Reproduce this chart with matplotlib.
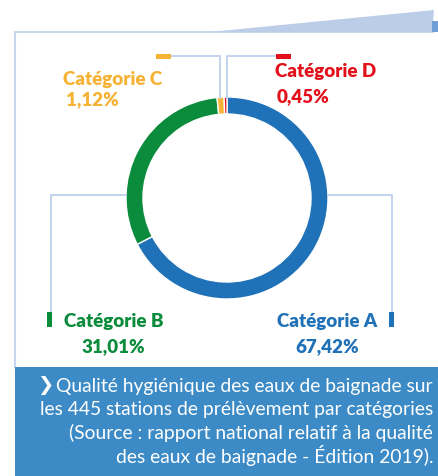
import matplotlib.pyplot as plt
from matplotlib.patches import Rectangle, Polygon

# data
categories = ['Catégorie A', 'Catégorie B', 'Catégorie C', 'Catégorie D']
shares = [67.42, 31.01, 1.12, 0.45]
share_labels = ['67,42%', '31,01%', '1,12%', '0,45%']
colors = ['#1f71b8', '#0a8c3c', '#f6b234', '#e2101b']
caption = ['Qualité hygiénique des eaux de baignade sur',
           'les 445 stations de prélèvement par catégories',
           '(Source : rapport national relatif à la qualité',
           'des eaux de baignade - Édition 2019).']

W, H = 438, 477
def Y(p):
    # pixel row -> data y
    return H - p

fig = plt.figure(figsize=(W / 100, H / 100), dpi=100)
ax = fig.add_axes([0, 0, 1, 1])

frame = '#c8d6ee'
lc = '#c3d3ee'

# frame and top decoration
ax.plot([15, 15], [Y(33), Y(368)], color=frame, lw=1.5, zorder=1)
ax.plot([15, 433], [Y(33), Y(33)], color=frame, lw=1.5, zorder=1)
ax.add_patch(Polygon([(210, Y(33)), (434, Y(11)), (432, Y(33))], closed=True,
                     fc='#bccde9', ec='none', zorder=2))
ax.add_patch(Rectangle((432, Y(33)), 6, 11, fc='#6f9fd4', ec='none', zorder=2))

# donut
cx, cy, r = 227, Y(199), 101
ax.pie(shares, colors=colors, startangle=90, counterclock=False,
       center=(cx, cy), radius=r, frame=True,
       wedgeprops=dict(width=17, edgecolor='white', linewidth=1))
ax.set_xlim(0, W)
ax.set_ylim(0, H)
ax.set_aspect('equal')
ax.axis('off')

# leader lines
ax.plot([171, 220, 220], [Y(57), Y(57), Y(99)], color=lc, lw=1.4, zorder=1)
ax.plot([276, 227, 227], [Y(57), Y(57), Y(99)], color=lc, lw=1.4, zorder=1)
ax.plot([126, 51, 51], [Y(196), Y(196), Y(313)], color=lc, lw=1.4, zorder=1)
ax.plot([328, 392, 392], [Y(196), Y(196), Y(313)], color=lc, lw=1.4, zorder=1)

# markers
ax.add_patch(Rectangle((156, Y(60)), 15, 5, fc=colors[2], ec='none'))
ax.add_patch(Rectangle((276, Y(60)), 15, 5, fc=colors[3], ec='none'))
ax.add_patch(Rectangle((47, Y(328)), 5, 15, fc=colors[1], ec='none'))
ax.add_patch(Rectangle((389, Y(328)), 5, 15, fc=colors[0], ec='none'))

# labels
fs = 13.5
kw = dict(fontsize=fs, fontweight='heavy', family='Lato', va='center')
ax.text(63, Y(80), categories[2], color=colors[2], ha='left', **kw)
ax.text(66, Y(100), share_labels[2], color=colors[2], ha='left', **kw)
ax.text(275, Y(72), categories[3], color=colors[3], ha='left', **kw)
ax.text(277, Y(97), share_labels[3], color=colors[3], ha='left', **kw)
ax.text(113.5, Y(321), categories[1], color=colors[1], ha='center', **kw)
ax.text(113.5, Y(347), share_labels[1], color=colors[1], ha='center', **kw)
ax.text(327.5, Y(321), categories[0], color=colors[0], ha='center', **kw)
ax.text(327.5, Y(347), share_labels[0], color=colors[0], ha='center', **kw)

# caption box
ax.add_patch(Rectangle((15, 0), W - 15, Y(368), fc='#3d8bc6', ec='none'))
for i, line in enumerate(caption):
    ax.text(433, Y(387 + 23 * i), line, color='white', fontsize=13.85,
            family='Lato', ha='right', va='center')
ax.text(37, Y(386), '❯', color='white', fontsize=14, fontweight='bold',
        family=['DejaVu Sans'], ha='left', va='center')

fig.savefig('out.png', dpi=100)
